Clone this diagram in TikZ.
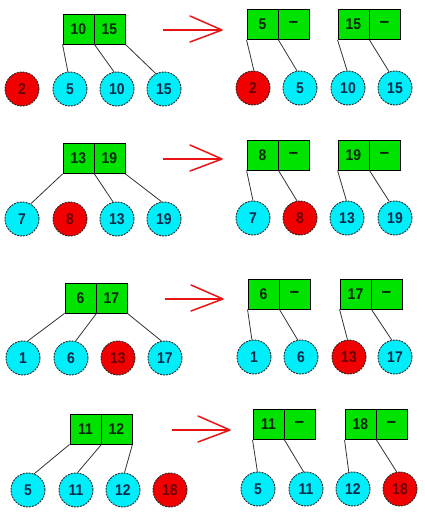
\documentclass[tikz,border=0pt]{standalone}
\usepackage{fontspec}
\setmainfont[FakeStretch=0.9]{Liberation Sans}
\newcommand{\emptykey}{{\fontsize{19}{19}\selectfont\bfseries --}}
\definecolor{boxgreen}{RGB}{0,226,0}
\definecolor{cyanfill}{RGB}{0,238,250}
\definecolor{redfill}{RGB}{240,0,0}
\definecolor{boxtext}{RGB}{0,40,0}
\definecolor{cyantext}{RGB}{0,45,75}
\definecolor{redtext}{RGB}{105,0,0}
\definecolor{arrowred}{RGB}{235,20,20}
\tikzset{
  cell/.style={draw=black, line width=0.9pt, fill=boxgreen, minimum width=31, minimum height=30, inner sep=0pt,
    text=boxtext, font=\fontsize{15.5}{15.5}\selectfont\bfseries},
  cnode/.style={circle, draw=black!85, dash pattern=on 2pt off 1pt, line width=0.9pt, fill=cyanfill,
    minimum size=34, inner sep=0pt, text=cyantext, font=\fontsize{15.5}{15.5}\selectfont\bfseries},
  rnode/.style={cnode, fill=redfill, text=redtext},
  link/.style={draw=black!80, line width=0.8pt},
  arr/.style={draw=arrowred, line width=1.8pt}
}
\begin{document}
\begin{tikzpicture}[x=1pt,y=-1pt]
\useasboundingbox[fill=white] (0,0) rectangle (424,512);

% ---------- Row 1 ----------
\node[cell] (L1a) at (78.5,29) {10};
\node[cell] (L1b) at (109.5,29) {15};
\node[rnode] (l1a) at (22,89) {2};
\node[cnode] (l1b) at (70,89) {5};
\node[cnode] (l1c) at (117,89) {10};
\node[cnode] (l1d) at (164,89) {15};
\draw[link] (L1a.south west) -- (l1b.97);
\draw[link] (L1a.south east) -- (l1c.100);
\draw[link] (L1b.south east) -- (l1d.118);
\coordinate (A1s) at (163,30); \coordinate (A1e) at (222,30);
\draw[arr] (A1s) -- (A1e);
\draw[arr, line width=1.5pt, line cap=round] (A1e) -- ++(-32,-14) (A1e) -- ++(-32,12);
\node[cell] (P1a) at (262.5,24.5) {5};
\node[cell] (P1b) at (293.5,24.5) {\emptykey};
\node[cell] (Q1a) at (353.5,24.5) {15};
\node[cell] (Q1b) at (384.5,24.5) {\emptykey};
\node[rnode] (m1a) at (253,88) {2};
\node[cnode] (m1b) at (300,88) {5};
\node[cnode] (m1c) at (348,88) {10};
\node[cnode] (m1d) at (395,88) {15};
\draw[link] (P1a.south west) -- (m1a.87);
\draw[link] (P1a.south east) -- (m1b.100);
\draw[link] (Q1a.south west) -- (m1c.93);
\draw[link] (Q1a.south east) -- (m1d.110);

% ---------- Row 2 ----------
\node[cell] (L2a) at (78.5,158.5) {13};
\node[cell] (L2b) at (109.5,158.5) {19};
\node[cnode] (l2a) at (22,219) {7};
\node[rnode] (l2b) at (70,219) {8};
\node[cnode] (l2c) at (117,219) {13};
\node[cnode] (l2d) at (164,219) {19};
\draw[link] (L2a.south west) -- (l2a.60);
\draw[link] (L2a.south east) -- (l2c.103);
\draw[link] (L2b.south east) -- (l2d.98);
\coordinate (A2s) at (163,159); \coordinate (A2e) at (222,159);
\draw[arr] (A2s) -- (A2e);
\draw[arr, line width=1.5pt, line cap=round] (A2e) -- ++(-32,-14) (A2e) -- ++(-32,12);
\node[cell] (P2a) at (262.5,155) {8};
\node[cell] (P2b) at (293.5,155) {\emptykey};
\node[cell] (Q2a) at (353.5,155) {19};
\node[cell] (Q2b) at (384.5,155) {\emptykey};
\node[cnode] (m2a) at (253,218) {7};
\node[rnode] (m2b) at (300,218) {8};
\node[cnode] (m2c) at (347,218) {13};
\node[cnode] (m2d) at (395,218) {19};
\draw[link] (P2a.south west) -- (m2a.90);
\draw[link] (P2a.south east) -- (m2b.100);
\draw[link] (Q2a.south west) -- (m2c.92);
\draw[link] (Q2a.south east) -- (m2d.109);

% ---------- Row 3 ----------
\node[cell] (L3a) at (80.5,298) {6};
\node[cell] (L3b) at (111.5,298) {17};
\node[cnode] (l3a) at (23,358) {1};
\node[cnode] (l3b) at (71,358) {6};
\node[rnode] (l3c) at (118,358) {13};
\node[cnode] (l3d) at (165,358) {17};
\draw[link] (L3a.south west) -- (l3a.75);
\draw[link] (L3a.south east) -- (l3b.75);
\draw[link] (L3b.south east) -- (l3d.102);
\coordinate (A3s) at (165,299); \coordinate (A3e) at (223,299);
\draw[arr] (A3s) -- (A3e);
\draw[arr, line width=1.5pt, line cap=round] (A3e) -- ++(-32,-14) (A3e) -- ++(-32,12);
\node[cell] (P3a) at (263.5,294) {6};
\node[cell] (P3b) at (294.5,294) {\emptykey};
\node[cell] (Q3a) at (355.5,294) {17};
\node[cell] (Q3b) at (386.5,294) {\emptykey};
\node[cnode] (m3a) at (254,357) {1};
\node[cnode] (m3b) at (301,357) {6};
\node[rnode] (m3c) at (349,357) {13};
\node[cnode] (m3d) at (395,357) {17};
\draw[link] (P3a.south west) -- (m3a.97);
\draw[link] (P3a.south east) -- (m3b.101);
\draw[link] (Q3a.south west) -- (m3c.95);
\draw[link] (Q3a.south east) -- (m3d.101);

% ---------- Row 4 ----------
\node[cell] (L4a) at (85.5,429) {11};
\node[cell] (L4b) at (116.5,429) {12};
\node[cnode] (l4a) at (28,490) {5};
\node[cnode] (l4b) at (76,490) {11};
\node[cnode] (l4c) at (123,490) {12};
\node[rnode] (l4d) at (170,490) {18};
\draw[link] (L4a.south west) -- (l4a.69);
\draw[link] (L4a.south east) -- (l4b.85);
\draw[link] (L4b.south east) -- (l4c.85);
\coordinate (A4s) at (172,430); \coordinate (A4e) at (230,430);
\draw[arr] (A4s) -- (A4e);
\draw[arr, line width=1.5pt, line cap=round] (A4e) -- ++(-32,-14) (A4e) -- ++(-32,12);
\node[cell] (P4a) at (268.5,424.5) {11};
\node[cell] (P4b) at (299.5,424.5) {\emptykey};
\node[cell] (Q4a) at (360.5,424.5) {18};
\node[cell] (Q4b) at (391.5,424.5) {\emptykey};
\node[cnode] (m4a) at (258,489) {5};
\node[cnode] (m4b) at (306,489) {11};
\node[cnode] (m4c) at (353,489) {12};
\node[rnode] (m4d) at (400,489) {18};
\draw[link] (P4a.south west) -- (m4a.92);
\draw[link] (P4a.south east) -- (m4b.98);
\draw[link] (Q4a.south west) -- (m4c.104);
\draw[link] (Q4a.south east) -- (m4d.101);
\end{tikzpicture}
\end{document}
